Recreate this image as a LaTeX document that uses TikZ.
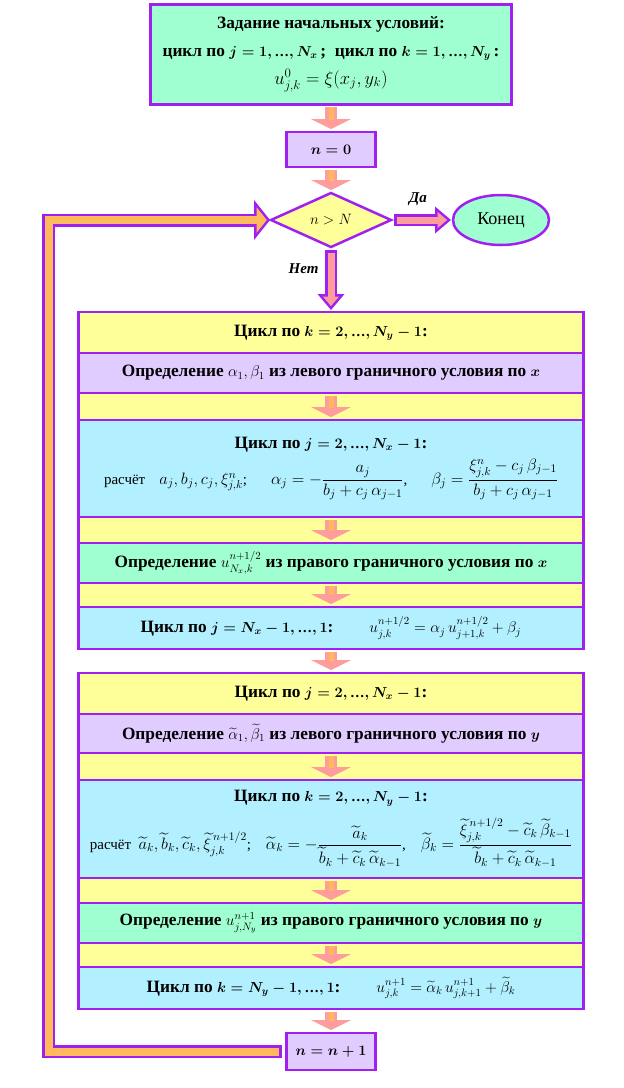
\RequirePackage{fix-cm}
\documentclass[tikz,border=0pt]{standalone}
\usepackage{amsmath}
\usepackage{bm}
\usepackage{fontspec}
\setmainfont{Liberation Serif}
\usetikzlibrary{arrows.meta, positioning, shapes.geometric, fit, backgrounds}
\definecolor{flowVio}{HTML}{A020F0}
\definecolor{flowMint}{HTML}{A0FFD0}
\definecolor{flowLilac}{HTML}{E0CCFF}
\definecolor{flowLemon}{HTML}{FFFF99}
\definecolor{flowSky}{HTML}{B3F0FF}
\definecolor{flowSalmon}{HTML}{FF9C9C}
\definecolor{flowOrange}{HTML}{FFB85C}
\newcommand{\headfont}{\fontsize{17.3}{20}\selectfont\bfseries}
\newcommand{\calcfont}{\fontsize{15}{18}\selectfont\mdseries}
\newcommand{\mhd}[1]{{\fontsize{14.5}{17}\selectfont\boldmath$#1$}}
\newcommand{\mrg}[1]{{\fontsize{15.5}{18}\selectfont\unboldmath$#1$}}
\newcommand{\mcalc}[1]{{\fontsize{16.5}{19}\selectfont\unboldmath$#1$}}
\tikzset{
  boxF/.style={rectangle, draw=flowVio, line width=2.5pt, align=center,
               inner sep=0pt, outer sep=0pt, font=\headfont},
  rowF/.style={boxF, minimum width=505pt},
  lblF/.style={font=\fontsize{15}{18}\selectfont\bfseries\itshape, inner sep=0pt},
  softarrow/.style={draw=flowOrange, line width=5pt, shorten <=3pt, shorten >=12pt,
    preaction={draw=flowSalmon, line width=12pt, shorten <=3pt, shorten >=3pt,
      -{Triangle[length=10pt 0 0, width=40pt 0 0, line width=0pt 0 0]}}},
  fatarrow/.style={draw=flowSalmon, line width=7pt, shorten <=5.5pt, shorten >=5.9pt,
    -{Triangle[length=9.6pt 0 0, width=16.2pt 0 0, line width=0pt 0 0]},
    preaction={draw=flowVio, line width=12pt, shorten <=3pt, shorten >=2pt,
      -{Triangle[length=16pt 0 0, width=27pt 0 0, line width=0pt 0 0]}}},
  bandarrow/.style={draw=flowOrange, line width=8pt, line join=miter,
    shorten <=7.5pt, shorten >=4.2pt,
    -{Triangle[length=10.3pt 0 0, width=25.7pt 0 0, line width=0pt 0 0]},
    preaction={draw=flowVio, line width=13pt, line join=miter, shorten <=5pt, shorten >=1pt,
      -{Triangle[length=16pt 0 0, width=40pt 0 0, line width=0pt 0 0]}}},
}
\begin{document}
\begin{tikzpicture}[x=1pt, y=-1pt]
  \useasboundingbox (0,0) rectangle (624,1088);
  % start
  \node[boxF, fill=flowMint, minimum width=361pt, minimum height=100pt, line width=3pt,
        execute at begin node=\setlength{\baselineskip}{28pt}] (init) at (331,54)
        {Задание начальных условий:\\
         цикл по \mhd{j = 1, \text{…}, N_x}\,;\ \ цикл по \mhd{k = 1, \text{…}, N_y}\,:\\
         {\fontsize{18.5}{20}\selectfont\mdseries $u^0_{j,k} = \xi(x_j, y_k)$}};
  \node[boxF, fill=flowLilac, minimum width=89pt, minimum height=35pt, below=28pt of init] (zero) {\mhd{n = 0}};
  \node[boxF, diamond, fill=flowLemon, minimum width=120pt, minimum height=54pt,
        below=26pt of zero, font=\fontsize{15}{18}\selectfont] (cond) {$n > N$};
  \node[boxF, ellipse, fill=flowMint, minimum width=96pt, minimum height=50pt,
        right=62pt of cond, font=\fontsize{18}{20}\selectfont] (fin) {Конец};

  % sweep in x
  \node[rowF, draw=none, minimum height=41pt, below=65pt of cond] (headx) {Цикл по \mhd{k = 2, \text{…}, N_y - 1}:};
  \node[rowF, fill=flowLilac, minimum height=40pt, below=0pt of headx] (leftx)
        {Определение \mrg{\alpha_1, \beta_1} из левого граничного условия по \mhd{x}};
  \node[rowF, fill=flowSky, minimum height=97pt, below=27pt of leftx] (sweepx)
        {Цикл по \mhd{j = 2, \text{…}, N_x - 1}:\\[6pt]
         {\calcfont расчёт\hspace{14pt}\mcalc{a_j, b_j, c_j, \xi^n_{j,k}};\hspace{24pt}%
          \mcalc{\alpha_j = -\dfrac{a_j}{b_j + c_j\,\alpha_{j-1}}},\hspace{24pt}%
          \mcalc{\beta_j = \dfrac{\xi^n_{j,k} - c_j\,\beta_{j-1}}{b_j + c_j\,\alpha_{j-1}}}}};
  \node[rowF, fill=flowMint, minimum height=40pt, below=26pt of sweepx] (rightx)
        {Определение \mrg{u^{n+1/2}_{N_x,k}} из правого граничного условия по \mhd{x}};
  \node[rowF, fill=flowSky, minimum height=42pt, below=24pt of rightx] (backx)
        {Цикл по \mhd{j = N_x - 1, \text{…}, 1}:\hspace{36pt}\mrg{u^{n+1/2}_{j,k} = \alpha_j\, u^{n+1/2}_{j+1,k} + \beta_j}};
  \begin{scope}[on background layer]
    \node[boxF, fill=flowLemon, fit=(headx)(backx)] (loopx) {};
  \end{scope}

  % sweep in y
  \node[rowF, draw=none, minimum height=41pt, below=24pt of loopx] (heady) {Цикл по \mhd{j = 2, \text{…}, N_x - 1}:};
  \node[rowF, fill=flowLilac, minimum height=39pt, below=0pt of heady] (lefty)
        {Определение \mrg{\widetilde{\alpha}_1, \widetilde{\beta}_1} из левого граничного условия по \mhd{y}};
  \node[rowF, fill=flowSky, minimum height=98pt, below=27pt of lefty] (sweepy)
        {Цикл по \mhd{k = 2, \text{…}, N_y - 1}:\\[11pt]
         {\calcfont расчёт\ \ \mcalc{\widetilde{a}_k, \widetilde{b}_k, \widetilde{c}_k, \widetilde{\xi}^{\,n+1/2}_{j,k}};\quad
          \mcalc{\widetilde{\alpha}_k = -\dfrac{\widetilde{a}_k}{\widetilde{b}_k + \widetilde{c}_k\,\widetilde{\alpha}_{k-1}}},\quad
          \mcalc{\widetilde{\beta}_k = \dfrac{\widetilde{\xi}^{\,n+1/2}_{j,k} - \widetilde{c}_k\,\widetilde{\beta}_{k-1}}{\widetilde{b}_k + \widetilde{c}_k\,\widetilde{\alpha}_{k-1}}}}};
  \node[rowF, fill=flowMint, minimum height=40pt, below=25pt of sweepy] (righty)
        {Определение \mrg{u^{n+1}_{j,N_y}} из правого граничного условия по \mhd{y}};
  \node[rowF, fill=flowSky, minimum height=42pt, below=24pt of righty] (backy)
        {Цикл по \mhd{k = N_y - 1, \text{…}, 1}:\hspace{36pt}\mrg{u^{n+1}_{j,k} = \widetilde{\alpha}_k\, u^{n+1}_{j,k+1} + \widetilde{\beta}_k}};
  \begin{scope}[on background layer]
    \node[boxF, fill=flowLemon, fit=(heady)(backy)] (loopy) {};
  \end{scope}
  \node[boxF, fill=flowLilac, minimum width=89pt, minimum height=37pt, below=24pt of loopy] (inc) {\mhd{n = n + 1}};

  % small arrows
  \draw[softarrow] (init) -- (zero);
  \draw[softarrow] (zero) -- (cond);
  \draw[softarrow] (leftx) -- (sweepx);
  \draw[softarrow] (sweepx) -- (rightx);
  \draw[softarrow] (rightx) -- (backx);
  \draw[softarrow] (loopx) -- (loopy);
  \draw[softarrow] (lefty) -- (sweepy);
  \draw[softarrow] (sweepy) -- (righty);
  \draw[softarrow] (righty) -- (backy);
  \draw[softarrow] (loopy) -- (inc);

  % branches and loop back
  \draw[fatarrow] (cond.east) -- node[lblF, above=11pt, xshift=-4pt] (yes) {Да} (fin.west);
  \draw[fatarrow] (cond.south) -- node[lblF, left=9pt, pos=0.33] (no) {Нет} (headx.north);
  \coordinate (bend) at (48.5,0);
  \draw[bandarrow] (inc.west) -- (inc.west -| bend) -- (bend |- cond.west) -- (cond.west);
\end{tikzpicture}
\end{document}
